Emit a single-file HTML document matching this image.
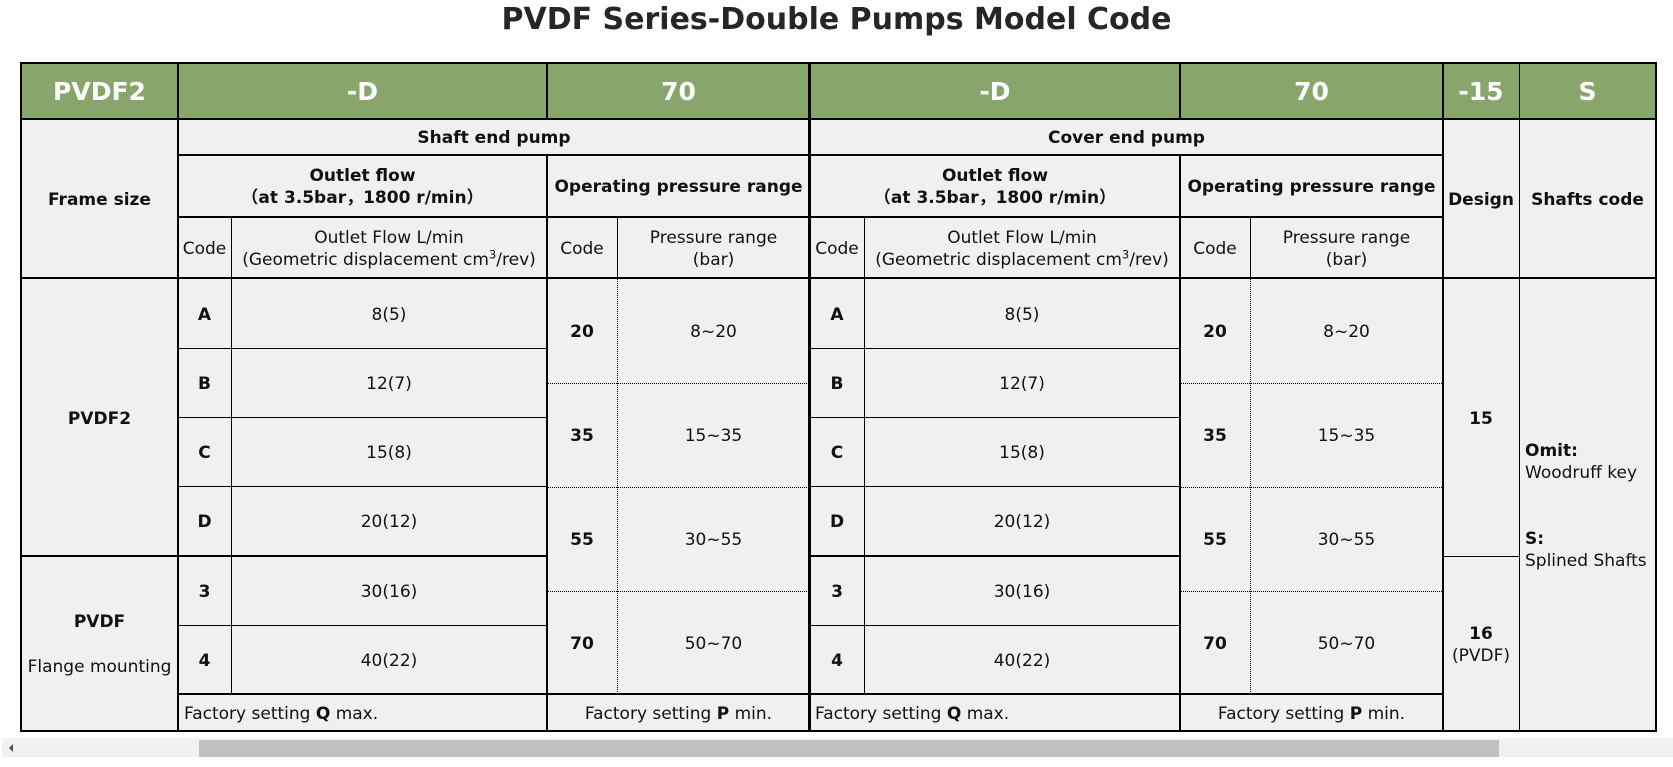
<!DOCTYPE html>
<html>
<head>
<meta charset="utf-8">
<style>
  html,body{margin:0;padding:0;background:#fff;}
  body{width:1673px;height:767px;position:relative;overflow:hidden;
       font-family:"DejaVu Sans","Noto Sans CJK SC",sans-serif;color:#111;}
  .abs{position:absolute;}
  .c{position:absolute;display:flex;align-items:center;justify-content:center;
     text-align:center;font-size:17px;line-height:22px;padding-top:2px;box-sizing:border-box;}
  .b{font-weight:bold;}
  .h{color:#fff;font-weight:bold;font-size:25px;}
  .l{background:#000;position:absolute;}
  .dh{position:absolute;height:0;border-top:1px dotted #000;}
  .dv{position:absolute;width:0;border-left:1px dotted #000;}
  sup{font-size:0.68em;line-height:0;vertical-align:0.55em;}
  .left{justify-content:flex-start;text-align:left;}
</style>
</head>
<body>

<!-- title -->
<div class="abs b" style="left:0;top:2px;width:1673px;text-align:center;font-size:30px;line-height:36px;color:#262626;">PVDF Series-Double Pumps Model Code</div>

<!-- backgrounds -->
<div class="abs" style="left:21px;top:63px;width:1635px;height:668px;background:#f0f0f0;"></div>
<div class="abs" style="left:21px;top:63px;width:1635px;height:56px;background:#88a56b;"></div>

<!-- outer border -->
<div class="l" style="left:20px;top:62px;width:1637px;height:2px;"></div>
<div class="l" style="left:20px;top:730px;width:1637px;height:2px;"></div>
<div class="l" style="left:20px;top:62px;width:2px;height:670px;"></div>
<div class="l" style="left:1655px;top:62px;width:2px;height:670px;"></div>

<!-- horizontal lines -->
<div class="l" style="left:20px;top:118px;width:1637px;height:2px;"></div>
<div class="l" style="left:177px;top:154px;width:1266px;height:2px;"></div>
<div class="l" style="left:177px;top:216px;width:1266px;height:2px;"></div>
<div class="l" style="left:20px;top:277px;width:1637px;height:2px;"></div>

<!-- flow rows left -->
<div class="l" style="left:177px;top:348px;width:370px;height:1px;"></div>
<div class="l" style="left:177px;top:417px;width:370px;height:1px;"></div>
<div class="l" style="left:177px;top:486px;width:370px;height:1px;"></div>
<div class="l" style="left:20px;top:555px;width:527px;height:2px;"></div>
<div class="l" style="left:177px;top:625px;width:370px;height:1px;"></div>
<!-- flow rows right -->
<div class="l" style="left:810px;top:348px;width:370px;height:1px;"></div>
<div class="l" style="left:810px;top:417px;width:370px;height:1px;"></div>
<div class="l" style="left:810px;top:486px;width:370px;height:1px;"></div>
<div class="l" style="left:810px;top:555px;width:370px;height:2px;"></div>
<div class="l" style="left:810px;top:625px;width:370px;height:1px;"></div>
<!-- design split -->
<div class="l" style="left:1443px;top:556px;width:76px;height:1px;"></div>

<!-- factory row top -->
<div class="l" style="left:177px;top:693px;width:1266px;height:2px;"></div>

<!-- pressure dotted rows -->
<div class="dh" style="left:547px;top:383px;width:262px;"></div>
<div class="dh" style="left:547px;top:487px;width:262px;"></div>
<div class="dh" style="left:547px;top:591px;width:262px;"></div>
<div class="dh" style="left:1180px;top:383px;width:262px;"></div>
<div class="dh" style="left:1180px;top:487px;width:262px;"></div>
<div class="dh" style="left:1180px;top:591px;width:262px;"></div>

<!-- vertical lines -->
<div class="l" style="left:177px;top:62px;width:2px;height:670px;"></div>
<div class="l" style="left:231px;top:217px;width:1px;height:477px;"></div>
<div class="l" style="left:546px;top:62px;width:2px;height:57px;"></div>
<div class="l" style="left:546px;top:155px;width:2px;height:577px;"></div>
<div class="l" style="left:617px;top:217px;width:1px;height:61px;"></div>
<div class="dv" style="left:617px;top:279px;height:415px;"></div>
<div class="l" style="left:808px;top:62px;width:3px;height:670px;"></div>
<div class="l" style="left:864px;top:217px;width:1px;height:477px;"></div>
<div class="l" style="left:1179px;top:62px;width:2px;height:57px;"></div>
<div class="l" style="left:1179px;top:155px;width:2px;height:577px;"></div>
<div class="l" style="left:1250px;top:217px;width:1px;height:61px;"></div>
<div class="dv" style="left:1250px;top:279px;height:415px;"></div>
<div class="l" style="left:1442px;top:62px;width:2px;height:670px;"></div>
<div class="l" style="left:1519px;top:62px;width:1px;height:670px;"></div>

<!-- header row text -->
<div class="c h" style="left:21px;top:63px;width:157px;height:56px;">PVDF2</div>
<div class="c h" style="left:178px;top:63px;width:369px;height:56px;">-D</div>
<div class="c h" style="left:547px;top:63px;width:263px;height:56px;">70</div>
<div class="c h" style="left:810px;top:63px;width:370px;height:56px;">-D</div>
<div class="c h" style="left:1180px;top:63px;width:263px;height:56px;">70</div>
<div class="c h" style="left:1443px;top:63px;width:76px;height:56px;">-15</div>
<div class="c h" style="left:1519px;top:63px;width:137px;height:56px;">S</div>

<!-- sub headers -->
<div class="c b" style="left:178px;top:119px;width:632px;height:36px;">Shaft end pump</div>
<div class="c b" style="left:810px;top:119px;width:633px;height:36px;">Cover end pump</div>
<div class="c b" style="left:21px;top:119px;width:157px;height:160px;">Frame size</div>
<div class="c b" style="left:1443px;top:119px;width:76px;height:160px;">Design</div>
<div class="c b" style="left:1519px;top:119px;width:137px;height:160px;">Shafts code</div>

<div class="c b" style="left:178px;top:155px;width:369px;height:62px;"><div>Outlet flow<br>（at 3.5bar，1800 r/min）</div></div>
<div class="c b" style="left:547px;top:155px;width:263px;height:62px;">Operating pressure range</div>
<div class="c b" style="left:810px;top:155px;width:370px;height:62px;"><div>Outlet flow<br>（at 3.5bar，1800 r/min）</div></div>
<div class="c b" style="left:1180px;top:155px;width:263px;height:62px;">Operating pressure range</div>

<div class="c" style="left:178px;top:217px;width:53px;height:62px;">Code</div>
<div class="c" style="left:231px;top:217px;width:316px;height:62px;"><div>Outlet Flow L/min<br>(Geometric displacement cm<sup>3</sup>/rev)</div></div>
<div class="c" style="left:547px;top:217px;width:70px;height:62px;">Code</div>
<div class="c" style="left:617px;top:217px;width:193px;height:62px;"><div>Pressure range<br>(bar)</div></div>
<div class="c" style="left:810px;top:217px;width:54px;height:62px;">Code</div>
<div class="c" style="left:864px;top:217px;width:316px;height:62px;"><div>Outlet Flow L/min<br>(Geometric displacement cm<sup>3</sup>/rev)</div></div>
<div class="c" style="left:1180px;top:217px;width:70px;height:62px;">Code</div>
<div class="c" style="left:1250px;top:217px;width:193px;height:62px;"><div>Pressure range<br>(bar)</div></div>

<!-- frame size data -->
<div class="c b" style="left:21px;top:279px;width:157px;height:277px;">PVDF2</div>
<div class="c b" style="left:21px;top:609px;width:157px;height:24px;">PVDF</div>
<div class="c" style="left:21px;top:654px;width:157px;height:24px;">Flange mounting</div>

<!-- left flow data -->
<div class="c b" style="left:178px;top:279px;width:53px;height:69px;">A</div>
<div class="c" style="left:231px;top:279px;width:316px;height:69px;">8(5)</div>
<div class="c b" style="left:178px;top:348px;width:53px;height:69px;">B</div>
<div class="c" style="left:231px;top:348px;width:316px;height:69px;">12(7)</div>
<div class="c b" style="left:178px;top:417px;width:53px;height:69px;">C</div>
<div class="c" style="left:231px;top:417px;width:316px;height:69px;">15(8)</div>
<div class="c b" style="left:178px;top:486px;width:53px;height:70px;">D</div>
<div class="c" style="left:231px;top:486px;width:316px;height:70px;">20(12)</div>
<div class="c b" style="left:178px;top:556px;width:53px;height:69px;">3</div>
<div class="c" style="left:231px;top:556px;width:316px;height:69px;">30(16)</div>
<div class="c b" style="left:178px;top:625px;width:53px;height:69px;">4</div>
<div class="c" style="left:231px;top:625px;width:316px;height:69px;">40(22)</div>

<!-- right flow data -->
<div class="c b" style="left:810px;top:279px;width:54px;height:69px;">A</div>
<div class="c" style="left:864px;top:279px;width:316px;height:69px;">8(5)</div>
<div class="c b" style="left:810px;top:348px;width:54px;height:69px;">B</div>
<div class="c" style="left:864px;top:348px;width:316px;height:69px;">12(7)</div>
<div class="c b" style="left:810px;top:417px;width:54px;height:69px;">C</div>
<div class="c" style="left:864px;top:417px;width:316px;height:69px;">15(8)</div>
<div class="c b" style="left:810px;top:486px;width:54px;height:70px;">D</div>
<div class="c" style="left:864px;top:486px;width:316px;height:70px;">20(12)</div>
<div class="c b" style="left:810px;top:556px;width:54px;height:69px;">3</div>
<div class="c" style="left:864px;top:556px;width:316px;height:69px;">30(16)</div>
<div class="c b" style="left:810px;top:625px;width:54px;height:69px;">4</div>
<div class="c" style="left:864px;top:625px;width:316px;height:69px;">40(22)</div>

<!-- left pressure -->
<div class="c b" style="left:547px;top:279px;width:70px;height:104px;">20</div>
<div class="c" style="left:617px;top:279px;width:193px;height:104px;">8~20</div>
<div class="c b" style="left:547px;top:383px;width:70px;height:104px;">35</div>
<div class="c" style="left:617px;top:383px;width:193px;height:104px;">15~35</div>
<div class="c b" style="left:547px;top:487px;width:70px;height:104px;">55</div>
<div class="c" style="left:617px;top:487px;width:193px;height:104px;">30~55</div>
<div class="c b" style="left:547px;top:591px;width:70px;height:103px;">70</div>
<div class="c" style="left:617px;top:591px;width:193px;height:103px;">50~70</div>

<!-- right pressure -->
<div class="c b" style="left:1180px;top:279px;width:70px;height:104px;">20</div>
<div class="c" style="left:1250px;top:279px;width:193px;height:104px;">8~20</div>
<div class="c b" style="left:1180px;top:383px;width:70px;height:104px;">35</div>
<div class="c" style="left:1250px;top:383px;width:193px;height:104px;">15~35</div>
<div class="c b" style="left:1180px;top:487px;width:70px;height:104px;">55</div>
<div class="c" style="left:1250px;top:487px;width:193px;height:104px;">30~55</div>
<div class="c b" style="left:1180px;top:591px;width:70px;height:103px;">70</div>
<div class="c" style="left:1250px;top:591px;width:193px;height:103px;">50~70</div>

<!-- factory row -->
<div class="c left" style="left:184px;top:695px;width:360px;height:36px;"><div>Factory setting <b>Q</b> max.</div></div>
<div class="c" style="left:547px;top:695px;width:263px;height:36px;"><div>Factory setting <b>P</b> min.</div></div>
<div class="c left" style="left:815px;top:695px;width:360px;height:36px;"><div>Factory setting <b>Q</b> max.</div></div>
<div class="c" style="left:1180px;top:695px;width:263px;height:36px;"><div>Factory setting <b>P</b> min.</div></div>

<!-- design -->
<div class="c b" style="left:1443px;top:279px;width:76px;height:277px;">15</div>
<div class="c" style="left:1443px;top:556px;width:76px;height:175px;"><div><b>16</b><br>(PVDF)</div></div>

<!-- shafts code -->
<div class="c left" style="left:1525px;top:279px;width:131px;height:452px;"><div><b>Omit:</b><br>Woodruff key<br><br><br><b>S:</b><br>Splined Shafts</div></div>

<!-- scrollbar -->
<div class="abs" style="left:2px;top:738px;width:1671px;height:19px;background:#f1f1f1;"></div>
<div class="abs" style="left:199px;top:740px;width:1300px;height:17px;background:#c1c1c1;"></div>
<div class="abs" style="left:9px;top:744px;width:0;height:0;border-top:4px solid transparent;border-bottom:4px solid transparent;border-right:4px solid #505050;"></div>

</body>
</html>
